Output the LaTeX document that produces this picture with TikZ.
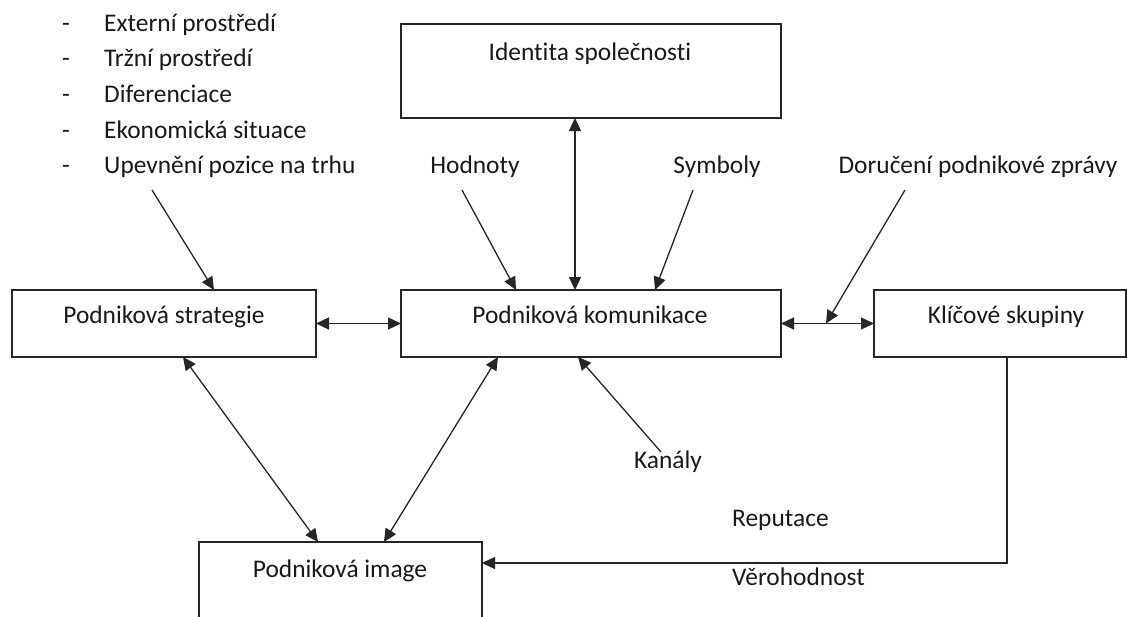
\documentclass[tikz,border=0pt]{standalone}
\usepackage{fontspec}
\setmainfont{Carlito}[Ligatures={NoCommon}]
\usetikzlibrary{arrows.meta,calc}
\begin{document}
\begin{tikzpicture}[x=1pt,y=-1pt,
  box/.style={draw=black!85,line width=1.3pt,rectangle,inner sep=0pt,outer sep=0pt},
  txt/.style={font=\fontsize{25.4}{30}\selectfont,inner sep=0pt,anchor=base,text=black!90},
  tip/.tip={Triangle[length=13pt,width=12pt]},
  con/.style={line width=1.3pt,draw=black!85,-tip},
  bi/.style={line width=1.3pt,draw=black!85,tip-tip}]
\useasboundingbox (0,0) rectangle (1127,616);
\clip (0,0) rectangle (1127,616);
\fill[white] (0,0) rectangle (1127,616);
% boxes
\node[box,minimum width=380pt,minimum height=94pt] (ident) at (591,71) {};
\node[box,minimum width=304pt,minimum height=67pt] (strat) at (164,323.5) {};
\node[box,minimum width=380pt,minimum height=67pt] (kom) at (591,323.5) {};
\node[box,minimum width=252pt,minimum height=67pt] (klic) at (1000,323.5) {};
\node[box,minimum width=283pt,minimum height=108pt] (image) at (340.5,596) {};
% box texts
\node[txt] (identT) at (590,60) {Identita společnosti};
\node[txt] (stratT) at (164,323) {Podniková strategie};
\node[txt] (komT) at (590,323) {Podniková komunikace};
\node[txt] (klicT) at (1006,323) {Klíčové skupiny};
\node[txt] (imageT) at (340,577) {Podniková image};
% list
\foreach \y/\t [count=\i] in {31.5/Externí prostředí,66/Tržní prostředí,102/Diferenciace,138/Ekonomická situace,173.5/Upevnění pozice na trhu}{
  \node[txt,anchor=base west] (dash\i) at (62,\y) {-};
  \node[txt,anchor=base west] (item\i) at (104,\y) {\t};
}
% labels
\node[txt] (hod) at (475,173) {Hodnoty};
\node[txt] (sym) at (717,173) {Symboly};
\node[txt] (dor) at (978,173) {Doručení podnikové zprávy};
\node[txt] (kan) at (668,468) {Kanály};
\node[txt,anchor=base west] (rep) at (732,526) {Reputace};
\node[txt,anchor=base west] (ver) at (732,585.5) {Věrohodnost};
% free ends
\coordinate (listEnd) at (152,190);
\coordinate (hodEnd) at (462,190);
\coordinate (symEnd) at (693,190);
\coordinate (dorEnd) at (905,190);
\coordinate (kanEnd) at (661,452);
\coordinate (mid) at (826,323.5);
% connectors
\draw[con] (listEnd) -- ($(strat.north west)+(202,0)$);
\draw[con] (hodEnd) -- ($(kom.north west)+(115,0)$);
\draw[con] (symEnd) -- ($(kom.north west)+(254,0)$);
\draw[bi] ($(ident.south west)+(174,0)$) -- ($(kom.north west)+(174,0)$);
\draw[bi] (strat.east) -- (kom.west);
\draw[bi] (kom.east) -- (klic.west);
\draw[con] (dorEnd) -- (mid);
\draw[bi] ($(strat.south west)+(171,0)$) -- ($(image.north west)+(119,0)$);
\draw[bi] ($(kom.south west)+(97,0)$) -- ($(image.north west)+(185,0)$);
\draw[con] (kanEnd) -- ($(kom.south west)+(177,0)$);
\draw[con] ($(klic.south west)+(133,0)$) |- ($(image.north east)+(0,21)$);
\end{tikzpicture}
\end{document}
